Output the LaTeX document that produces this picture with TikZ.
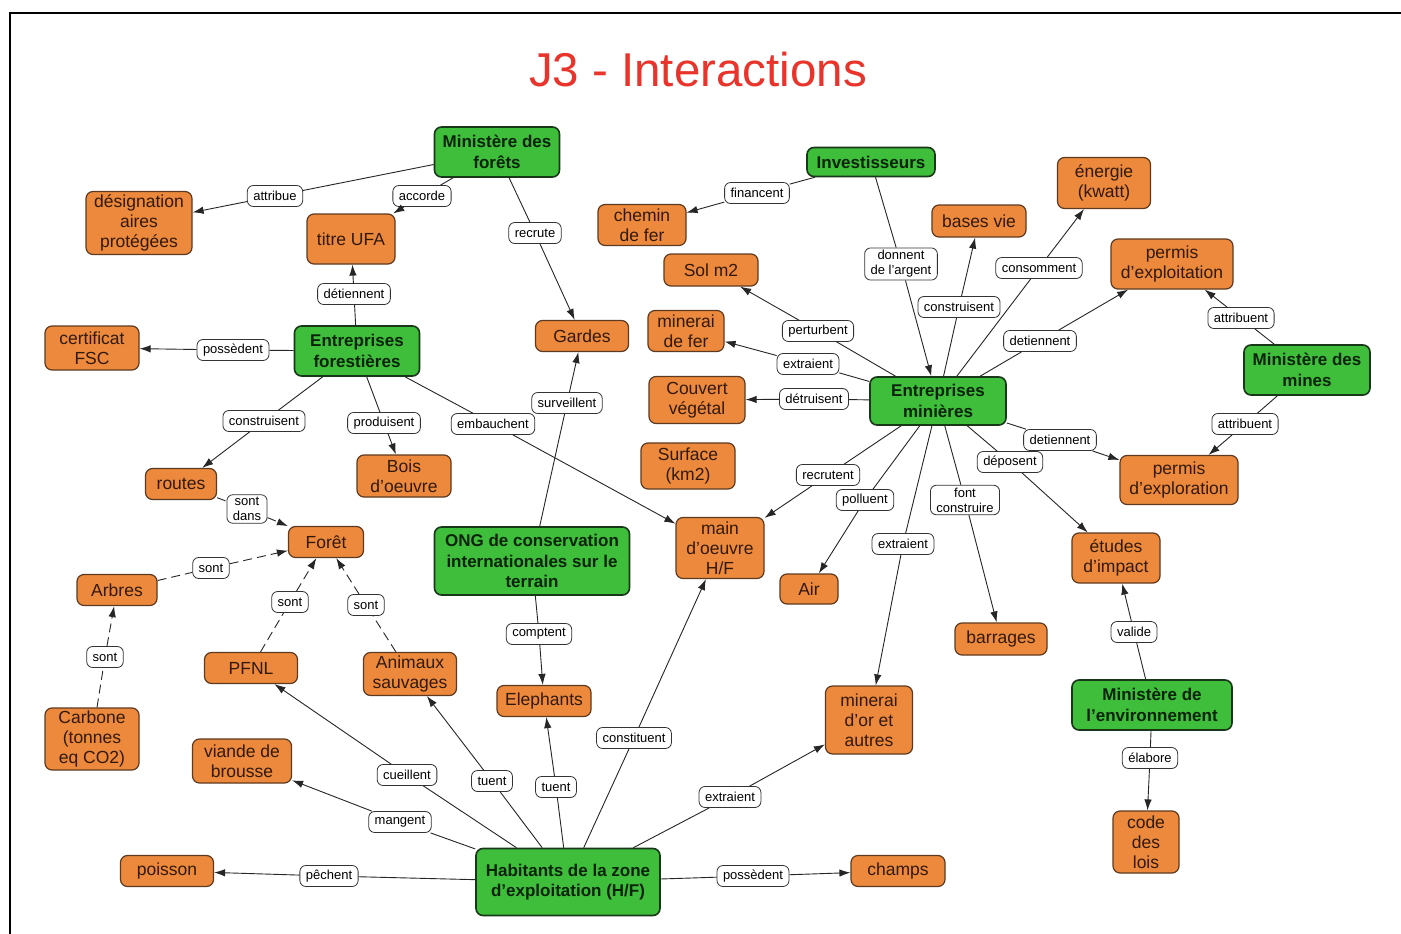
\documentclass[tikz,border=0pt]{standalone}
\usepackage{fontspec}
\setmainfont{Liberation Sans}
\usetikzlibrary{arrows.meta}
\definecolor{orangefill}{RGB}{236,137,60}
\definecolor{orangeline}{RGB}{95,58,32}
\definecolor{orangetext}{RGB}{50,25,10}
\definecolor{greenfill}{RGB}{62,190,58}
\definecolor{greenline}{RGB}{25,55,25}
\definecolor{greentext}{RGB}{10,35,10}
\definecolor{titlered}{RGB}{232,52,42}
\begin{document}
\begin{tikzpicture}[x=1pt,y=-1pt,
  onode/.style={draw=orangeline, line width=1.2pt, fill=orangefill, rounded corners=7pt,
    align=center, text=orangetext, font=\fontsize{17.5}{20}\selectfont, inner sep=2pt},
  gnode/.style={draw=greenline, line width=1.6pt, fill=greenfill, rounded corners=7pt,
    align=center, text=greentext, font=\fontsize{17}{20.5}\selectfont\bfseries, inner sep=2pt},
  sz/.style 2 args={minimum width=#1, minimum height=#2},
  lbl/.style={draw=black!80, line width=0.8pt, fill=white, rounded corners=6pt, align=center,
    font=\fontsize{13}{15}\selectfont, inner xsep=6pt, inner ysep=2.5pt, minimum height=21pt},
  link/.style={draw=black!85, line width=0.9pt},
  arr/.style={link, -{Latex[length=11pt,width=7.5pt]}},
  dlink/.style={link, dash pattern=on 9pt off 5pt},
  darr/.style={dlink, -{Latex[length=11pt,width=7.5pt]}},
]
\useasboundingbox (0,0) rectangle (1401,934);
\fill[white] (0,0) rectangle (1401,934);
% frame
\draw[line width=2pt] (10,934) -- (10,13) -- (1401,13);

% title
\node[text=titlered, font=\fontsize{47.5}{50}\selectfont] (title) at (698,70) {J3 - Interactions};

% concepts
\node[gnode, sz={125}{50}] (minfor) at (497,152) {Ministère des\\forêts};
\node[onode, sz={106}{63}] (desig) at (139,223) {désignation\\aires\\protégées};
\node[onode, sz={88}{50}] (ufa) at (351,239) {titre UFA};
\node[gnode, sz={128}{29}] (invest) at (871,162) {Investisseurs};
\node[onode, sz={88}{41}] (chemin) at (642,225) {chemin\\de fer};
\node[onode, sz={93}{51}] (energie) at (1104,183) {énergie\\(kwatt)};
\node[onode, sz={94}{32}] (bases) at (979,221) {bases vie};
\node[onode, sz={94}{32}] (sol) at (711,270) {Sol m2};
\node[onode, sz={122}{50}] (pexploit) at (1172,264) {permis\\d’exploitation};
\node[onode, sz={94}{44}] (fsc) at (92,348) {certificat\\FSC};
\node[gnode, sz={125}{50}] (entfor) at (357,351) {Entreprises\\forestières};
\node[onode, sz={93}{31}] (gardes) at (582,336) {Gardes};
\node[onode, sz={76}{41}] (fer) at (686,331) {minerai\\de fer};
\node[gnode, sz={126}{50}] (minmines) at (1307,370) {Ministère des\\mines};
\node[onode, sz={96}{47}] (couvert) at (697,400) {Couvert\\végétal};
\node[gnode, sz={136}{48}] (entmin) at (938,401) {Entreprises\\minières};
\node[onode, sz={71}{31}] (routes) at (181,484) {routes};
\node[onode, sz={94}{42}] (bois) at (404,476) {Bois\\d’oeuvre};
\node[onode, sz={94}{46}] (surface) at (688,466) {Surface\\(km2)};
\node[onode, sz={118}{49}] (pexplor) at (1179,480) {permis\\d’exploration};
\node[onode, sz={75}{31}] (foret) at (326,542) {Forêt};
\node[gnode, sz={195}{68}] (ong) at (532,561) {ONG de conservation\\internationales sur le\\terrain};
\node[onode, sz={88}{61}] (main) at (720,548) {main\\d’oeuvre\\H/F};
\node[onode, sz={88}{50}] (etudes) at (1116,558) {études\\d’impact};
\node[onode, sz={80}{31}] (arbres) at (117,590) {Arbres};
\node[onode, sz={58}{30}] (air) at (809,589) {Air};
\node[onode, sz={92}{32}] (barrages) at (1001,639) {barrages};
\node[onode, sz={93}{31}] (pfnl) at (251,668) {PFNL};
\node[onode, sz={93}{43}] (animaux) at (410,674) {Animaux\\sauvages};
\node[onode, sz={94}{31}] (elephants) at (544,701) {Elephants};
\node[onode, sz={94}{62}] (carbone) at (92,739) {Carbone\\(tonnes\\eq CO2)};
\node[onode, sz={87}{68}] (or) at (869,720) {minerai\\d’or et\\autres};
\node[gnode, sz={160}{50}] (minenv) at (1152,705) {Ministère de\\l’environnement};
\node[onode, sz={99}{44}] (viande) at (242,761) {viande de\\brousse};
\node[onode, sz={66}{62}] (code) at (1146,842) {code\\des\\lois};
\node[onode, sz={93}{31}] (poisson) at (167,871) {poisson};
\node[gnode, sz={184}{67}] (habitants) at (568,882) {Habitants de la zone\\d’exploitation (H/F)};
\node[onode, sz={94}{31}] (champs) at (898,871) {champs};

% linking phrases
\node[lbl] (l-attribue) at (275,196) {attribue};
\node[lbl] (l-accorde) at (422,196) {accorde};
\node[lbl] (l-recrute) at (535,233) {recrute};
\node[lbl] (l-detiennentf) at (354,294) {détiennent};
\node[lbl] (l-possedentf) at (233,350) {possèdent};
\node[lbl] (l-construisentf) at (264,421) {construisent};
\node[lbl] (l-produisent) at (384,423) {produisent};
\node[lbl] (l-embauchent) at (493,424) {embauchent};
\node[lbl] (l-sontdans) at (247,509) {sont\\dans};
\node[lbl] (l-sontarbres) at (211,568) {sont};
\node[lbl] (l-sontpfnl) at (290,602) {sont};
\node[lbl] (l-sontanimaux) at (366,605) {sont};
\node[lbl] (l-sontcarbone) at (105,657) {sont};
\node[lbl] (l-surveillent) at (567,403) {surveillent};
\node[lbl] (l-comptent) at (539,634) {comptent};
\node[lbl] (l-financent) at (757,193) {financent};
\node[lbl] (l-donnent) at (901,264) {donnent\\de l’argent};
\node[lbl] (l-construisentm) at (959,307) {construisent};
\node[lbl] (l-consomment) at (1039,268) {consomment};
\node[lbl] (l-detiennentm1) at (1040,341) {detiennent};
\node[lbl] (l-perturbent) at (818,331) {perturbent};
\node[lbl] (l-extraientfer) at (808,364) {extraient};
\node[lbl] (l-detruisent) at (814,399) {détruisent};
\node[lbl] (l-recrutent) at (828,475) {recrutent};
\node[lbl] (l-polluent) at (865,500) {polluent};
\node[lbl] (l-extraientor) at (903,544) {extraient};
\node[lbl] (l-font) at (965,500) {font\\construire};
\node[lbl] (l-detiennentm2) at (1060,440) {detiennent};
\node[lbl] (l-deposent) at (1010,462) {déposent};
\node[lbl] (l-attribuent1) at (1241,318) {attribuent};
\node[lbl] (l-attribuent2) at (1245,424) {attribuent};
\node[lbl] (l-valide) at (1134,632) {valide};
\node[lbl] (l-elabore) at (1150,758) {élabore};
\node[lbl] (l-pechent) at (329,876) {pêchent};
\node[lbl] (l-mangent) at (400,822) {mangent};
\node[lbl] (l-cueillent) at (407,775) {cueillent};
\node[lbl] (l-tuent1) at (492,781) {tuent};
\node[lbl] (l-tuent2) at (556,787) {tuent};
\node[lbl] (l-constituent) at (634,738) {constituent};
\node[lbl] (l-extraienth) at (730,797) {extraient};
\node[lbl] (l-possedenth) at (753,876) {possèdent};

% Ministère des forêts
\draw[link] (minfor) -- (l-attribue);  \draw[arr] (l-attribue) -- (desig);
\draw[link] (minfor) -- (l-accorde);   \draw[arr] (l-accorde) -- (ufa);
\draw[link] (minfor) -- (l-recrute);   \draw[arr] (l-recrute) -- (gardes);
% Entreprises forestières
\draw[link] (entfor) -- (l-detiennentf);   \draw[arr] (l-detiennentf) -- (ufa);
\draw[link] (entfor) -- (l-possedentf);    \draw[arr] (l-possedentf) -- (fsc);
\draw[link] (entfor) -- (l-construisentf); \draw[arr] (l-construisentf) -- (routes);
\draw[link] (entfor) -- (l-produisent);    \draw[arr] (l-produisent) -- (bois);
\draw[link] (entfor) -- (l-embauchent);    \draw[arr] (l-embauchent) -- (main);
% the forest and what is in it
\draw[dlink] (routes) -- (l-sontdans);      \draw[darr] (l-sontdans) -- (foret);
\draw[dlink] (arbres) -- (l-sontarbres);    \draw[darr] (l-sontarbres) -- (foret);
\draw[dlink] (pfnl) -- (l-sontpfnl);        \draw[darr] (l-sontpfnl) -- (foret);
\draw[dlink] (animaux) -- (l-sontanimaux);  \draw[darr] (l-sontanimaux) -- (foret);
\draw[dlink] (carbone) -- (l-sontcarbone);  \draw[darr] (l-sontcarbone) -- (arbres);
% ONG
\draw[link] (ong) -- (l-surveillent); \draw[arr] (l-surveillent) -- (gardes);
\draw[link] (ong) -- (l-comptent);    \draw[arr] (l-comptent) -- (elephants);
% Investisseurs
\draw[link] (invest) -- (l-financent); \draw[arr] (l-financent) -- (chemin);
\draw[link] (invest) -- (l-donnent);   \draw[arr] (l-donnent) -- (entmin);
% Entreprises minières
\draw[link] (entmin) -- (l-construisentm); \draw[arr] (l-construisentm) -- (bases);
\draw[link] (entmin) -- (l-consomment);    \draw[arr] (l-consomment) -- (energie);
\draw[link] (entmin) -- (l-detiennentm1);  \draw[arr] (l-detiennentm1) -- (pexploit);
\draw[link] (entmin) -- (l-perturbent);    \draw[arr] (l-perturbent) -- (sol);
\draw[link] (entmin) -- (l-extraientfer);  \draw[arr] (l-extraientfer) -- (fer);
\draw[link] (entmin) -- (l-detruisent);    \draw[arr] (l-detruisent) -- (couvert);
\draw[link] (entmin) -- (l-recrutent);     \draw[arr] (l-recrutent) -- (main);
\draw[link] (entmin) -- (l-polluent);      \draw[arr] (l-polluent) -- (air);
\draw[link] (entmin) -- (l-extraientor);   \draw[arr] (l-extraientor) -- (or);
\draw[link] (entmin) -- (l-font);          \draw[arr] (l-font) -- (barrages);
\draw[link] (entmin) -- (l-detiennentm2);  \draw[arr] (l-detiennentm2) -- (pexplor);
\draw[link] (entmin) -- (l-deposent);      \draw[arr] (l-deposent) -- (etudes);
% Ministère des mines
\draw[link] (minmines) -- (l-attribuent1); \draw[arr] (l-attribuent1) -- (pexploit);
\draw[link] (minmines) -- (l-attribuent2); \draw[arr] (l-attribuent2) -- (pexplor);
% Ministère de l'environnement
\draw[link] (minenv) -- (l-valide);  \draw[arr] (l-valide) -- (etudes);
\draw[link] (minenv) -- (l-elabore); \draw[arr] (l-elabore) -- (code);
% Habitants
\draw[link] (habitants) -- (l-pechent);     \draw[arr] (l-pechent) -- (poisson);
\draw[link] (habitants) -- (l-mangent);     \draw[arr] (l-mangent) -- (viande);
\draw[link] (habitants) -- (l-cueillent);   \draw[arr] (l-cueillent) -- (pfnl);
\draw[link] (habitants) -- (l-tuent1);      \draw[arr] (l-tuent1) -- (animaux);
\draw[link] (habitants) -- (l-tuent2);      \draw[arr] (l-tuent2) -- (elephants);
\draw[link] (habitants) -- (l-constituent); \draw[arr] (l-constituent) -- (main);
\draw[link] (habitants) -- (l-extraienth);  \draw[arr] (l-extraienth) -- (or);
\draw[link] (habitants) -- (l-possedenth);  \draw[arr] (l-possedenth) -- (champs);
\end{tikzpicture}
\end{document}
